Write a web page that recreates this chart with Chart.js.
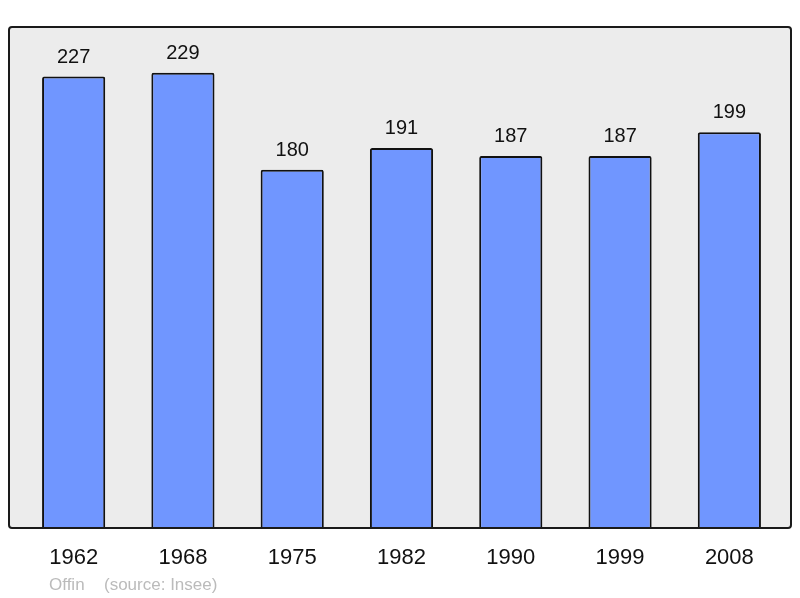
<!DOCTYPE html>
<html>
<head>
<meta charset="utf-8">
<script src="https://cdn.jsdelivr.net/npm/chart.js@4/dist/chart.umd.min.js"></script>
<style>
html,body{margin:0;padding:0;background:#fff;}
#wrap{width:800px;height:598px;position:relative;}
</style>
</head>
<body>
<div id="wrap"><canvas id="c" width="800" height="598"></canvas></div>
<script>
const years = ["1962","1968","1975","1982","1990","1999","2008"];
const population = [227,229,180,191,187,187,199];
const yMax = 252;
const footnoteName = "Offin";
const footnoteSource = "(source: Insee)";

const framePlugin = {
  id: 'frame',
  beforeDraw(chart){
    const {ctx, chartArea:a} = chart;
    const x0 = a.left - 10, x1 = a.right + 7, y0 = a.top, y1 = a.bottom + 1;
    ctx.save();
    ctx.beginPath();
    ctx.roundRect(x0, y0, x1 - x0, y1 - y0, 3);
    ctx.fillStyle = '#ececec';
    ctx.fill();
    ctx.restore();
  },
  afterDatasetsDraw(chart){
    const {ctx, chartArea:a} = chart;
    const x0 = a.left - 10, x1 = a.right + 7, y0 = a.top, y1 = a.bottom + 1;
    ctx.save();
    ctx.beginPath();
    ctx.roundRect(x0, y0, x1 - x0, y1 - y0, 3);
    ctx.lineWidth = 2;
    ctx.strokeStyle = '#1a1a1a';
    ctx.stroke();
    // value labels
    const meta = chart.getDatasetMeta(0);
    ctx.fillStyle = '#111';
    ctx.font = '20px "Liberation Sans", Arial, sans-serif';
    ctx.textAlign = 'center';
    ctx.textBaseline = 'alphabetic';
    meta.data.forEach((bar, i) => {
      ctx.fillText(String(population[i]), bar.x, bar.y - 14);
    });
    // footnote
    ctx.fillStyle = '#bbbbbb';
    ctx.font = '17px "Liberation Sans", Arial, sans-serif';
    ctx.textAlign = 'left';
    ctx.fillText(footnoteName, 49, 590);
    ctx.fillText(footnoteSource, 104, 590);
    ctx.restore();
  }
};

new Chart(document.getElementById('c'), {
  type: 'bar',
  data: {
    labels: years,
    datasets: [{
      data: population,
      backgroundColor: '#7096ff',
      borderColor: '#111111',
      borderWidth: {top:2, left:2, right:2, bottom:0},
      borderRadius: 2,
      borderSkipped: 'start',
      barPercentage: 0.578,
      categoryPercentage: 1
    }]
  },
  options: {
    responsive: false,
    animation: false,
    devicePixelRatio: 1,
    layout: { padding: { left: 19, right: 16, top: 27, bottom: 0 } },
    plugins: { legend: { display: false }, tooltip: { enabled: false } },
    scales: {
      x: {
        offset: true,
        grid: { display: false, drawTicks: false },
        border: { display: false },
        ticks: {
          color: '#111',
          font: { family: '"Liberation Sans", Arial, sans-serif', size: 22 },
          padding: 18,
          maxRotation: 0
        },
        afterFit(scale){ scale.height = 71; }
      },
      y: {
        display: false,
        min: 0,
        max: yMax
      }
    }
  },
  plugins: [framePlugin]
});
</script>
</body>
</html>
